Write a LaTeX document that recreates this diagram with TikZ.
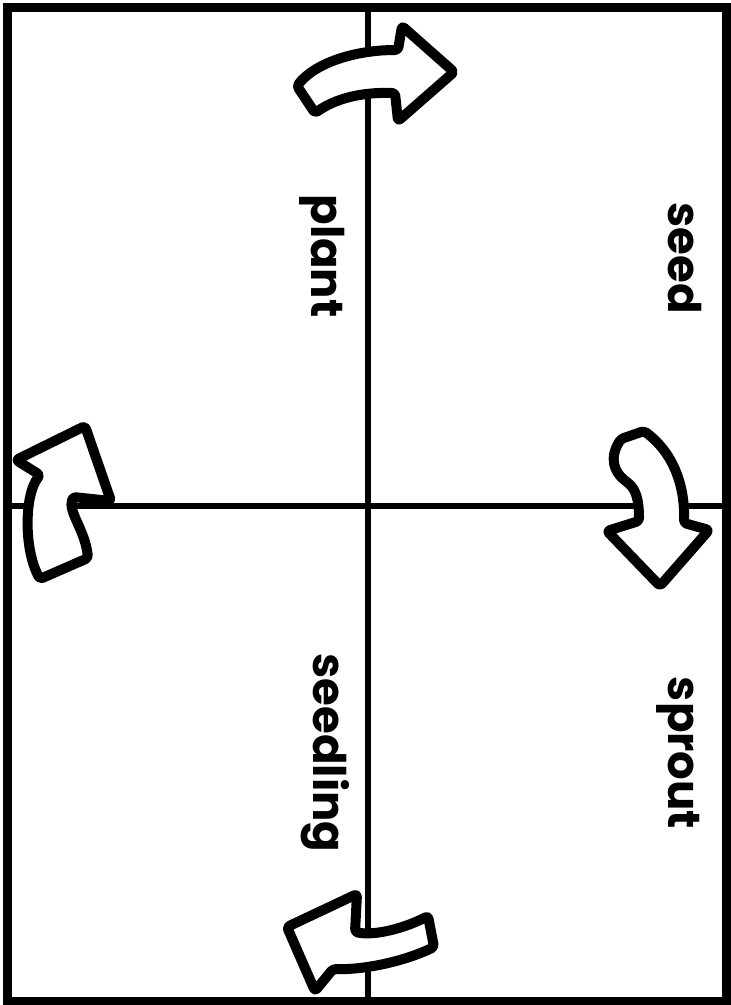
\documentclass[tikz,border=0pt]{standalone}
\usepackage{fontspec}
\newfontfamily\stagefont{Poppins}

\begin{document}
\begin{tikzpicture}[x=1pt, y=-1pt,
  stage/.style={font=\stagefont\bfseries\fontsize{45}{48}\selectfont,
                rotate=-90, inner sep=0pt},
  cyclearrow/.style={draw, fill=white, line width=10pt, line join=round,
                     rounded corners=3pt},
  divider/.style={line width=5.5pt}]
\useasboundingbox (0,0) rectangle (731,1005);
\draw[line width=9pt] (7,7) rectangle (726,1001);
\draw[divider] (368,7) -- (368,1001);
\draw[divider] (7,506) -- (726,506);
\node[stage] (seed)     at (685,258) {seed};
\node[stage] (sprout)   at (678,753) {sprout};
\node[stage] (seedling) at (325,753) {seedling};
\node[stage] (plant)    at (322,256) {plant};
\draw[cyclearrow] (454,72) -- (402,26) -- (398,50)
  .. controls (355,50) and (315,63) .. (297,86) -- (315,113)
  .. controls (335,99) and (360,92) .. (395,93) -- (398,121) -- cycle;
\draw[cyclearrow] (660,586) -- (709,530) -- (684,523)
  .. controls (685,490) and (676,455) .. (644,431) -- (621,439)
  .. controls (609,458) and (614,472) .. (627,482)
  .. controls (636,490) and (639,500) .. (639,521) -- (607,531) -- cycle;
\draw[cyclearrow] (287,927) -- (357,894) -- (355,932)
  .. controls (375,936) and (405,928) .. (428,916) -- (434,947)
  .. controls (405,961) and (365,970) .. (333,969) -- (315,991) -- cycle;
\draw[cyclearrow] (85,426) -- (111,501) -- (73,497)
  .. controls (68,512) and (85,530) .. (88,558) -- (40,579)
  .. controls (24,550) and (24,495) .. (40,475) -- (16,460) -- cycle;
\end{tikzpicture}
\end{document}
